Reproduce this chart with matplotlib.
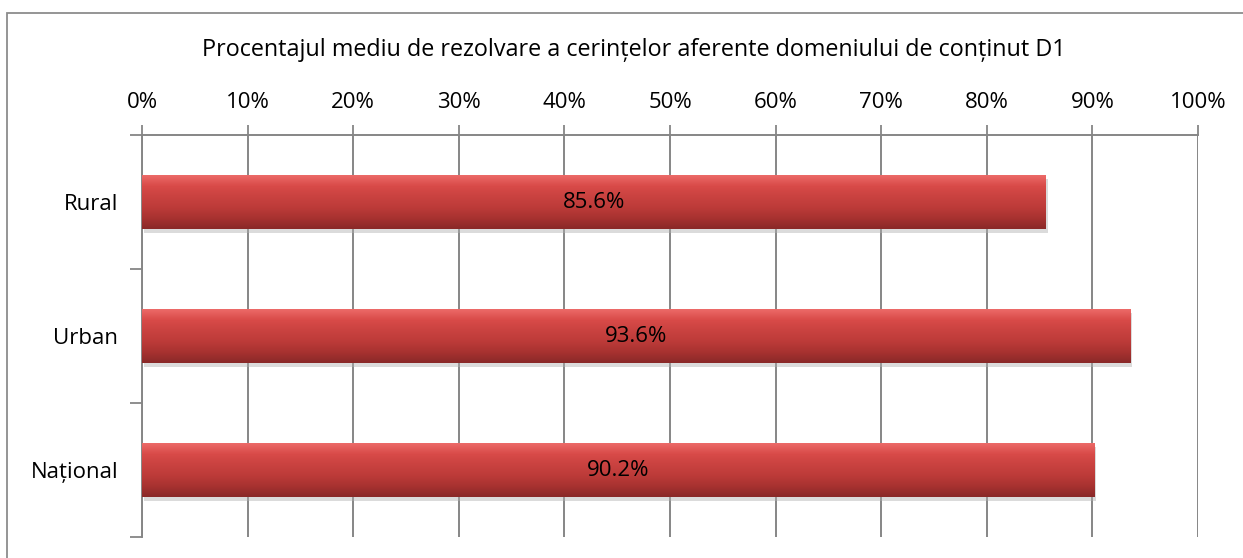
import numpy as np
import matplotlib
matplotlib.use("Agg")
import matplotlib.pyplot as plt
from matplotlib.patches import Rectangle
from matplotlib.colors import LinearSegmentedColormap
from matplotlib.ticker import MultipleLocator, PercentFormatter

plt.rcParams['font.family'] = ['Open Sans', 'DejaVu Sans']

# chart data
categories = ['Rural', 'Urban', 'Național']
values = [85.6, 93.6, 90.2]
title = 'Procentajul mediu de rezolvare a cerințelor aferente domeniului de conținut D1'

W, H = 1243, 558
fs = 16
fig = plt.figure(figsize=(W / 100, H / 100), dpi=100)

# outer chart border (cut off at right and bottom like the reference)
fig.patches.append(Rectangle((7 / W, -0.1), 1.2, 1.1 - 13 / H,
                             transform=fig.transFigure, fill=False,
                             edgecolor='#8c8c8c', linewidth=1.3))

ax = fig.add_axes([142 / W, 1 - 537 / H, (1198 - 142) / W, (537 - 135) / H])

pos = np.arange(len(categories))
grey = '#868686'

ax.set_xlim(0, 100)
ax.set_ylim(len(categories) - 0.5, -0.5)

ax.xaxis.set_major_locator(MultipleLocator(10))
ax.xaxis.set_major_formatter(PercentFormatter(decimals=0))
ax.xaxis.tick_top()
ax.grid(axis='x', color=grey, linewidth=1.4)
ax.set_axisbelow(True)

ax.set_yticks(pos)
ax.set_yticklabels(categories)
ax.set_yticks(np.arange(len(categories) + 1) - 0.5, minor=True)
ax.tick_params(axis='y', which='major', length=0, pad=17, labelsize=fs)
ax.tick_params(axis='y', which='minor', length=9, width=1.3, color=grey)
ax.tick_params(axis='x', length=7, width=1.3, color=grey, pad=9, labelsize=fs)

for side in ['left', 'top']:
    ax.spines[side].set_color(grey)
    ax.spines[side].set_linewidth(1.4)
ax.spines['right'].set_visible(False)
ax.spines['bottom'].set_visible(False)

fig.text(634 / W, 1 - 50 / H, title, ha='center', va='center', fontsize=16.8)

# bars with a vertical shaded gradient
bar_h = 0.4
grad = LinearSegmentedColormap.from_list(
    'bar', ['#ec6a68', '#d84a48', '#c94240', '#bd3b39', '#a83230', '#8a2928'])
gimg = np.linspace(0, 1, 64).reshape(-1, 1)
bars = ax.barh(pos, values, height=bar_h, color='#c43e3c', zorder=3)
for b in bars:
    x0, y0 = b.get_x(), b.get_y()
    w, h = b.get_width(), b.get_height()
    # soft shadow under the bar
    ax.add_patch(Rectangle((x0 + 0.15, y0 + 0.03), w, h, color='#b0b0b0',
                           alpha=0.45, zorder=2, linewidth=0))
    im = ax.imshow(gimg, cmap=grad, aspect='auto', zorder=4,
                   extent=(x0, x0 + w, y0 + h, y0), interpolation='bicubic')
    im.set_clip_path(b)

for p, v in zip(pos, values):
    ax.text(v / 2, p, f'{v:.1f}%', ha='center', va='center',
            fontsize=fs, color='black', zorder=5)

ax.set_xlim(0, 100)
ax.set_ylim(len(categories) - 0.5, -0.5)

fig.savefig('out.png', dpi=100)
